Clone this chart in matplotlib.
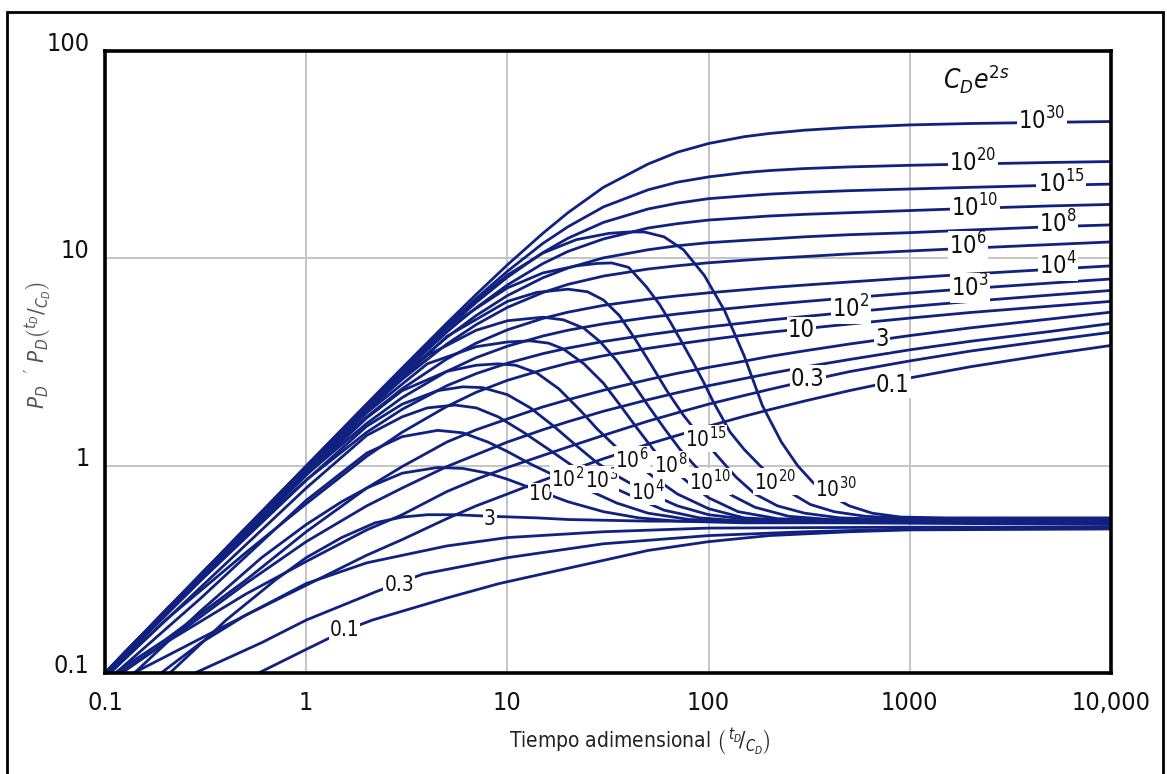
import matplotlib
matplotlib.use('Agg')
import matplotlib.pyplot as plt
from matplotlib.patches import Rectangle
from matplotlib.ticker import FixedLocator, FixedFormatter, NullLocator

plt.rcParams['font.family'] = ['DejaVu Sans']
plt.rcParams['font.stretch'] = 'condensed'
plt.rcParams['mathtext.fontset'] = 'custom'
plt.rcParams['mathtext.rm'] = 'DejaVu Sans'
plt.rcParams['mathtext.it'] = 'DejaVu Sans:italic'
plt.rcParams['mathtext.bf'] = 'DejaVu Sans:bold'

# ---------------- data ----------------
x_ticks = [0.1, 1, 10, 100, 1000, 10000]
x_tick_labels = ['0.1', '1', '10', '100', '1000', '10,000']
y_ticks = [0.1, 1, 10, 100]
y_tick_labels = ['0.1', '1', '10', '100']

# pressure curves p_D vs t_D/C_D (common time grid)
t_p = [0.1, 0.2, 0.5, 1, 2, 3, 5, 7, 10, 15, 20, 30, 50, 70, 100, 150, 200, 300, 500, 1000, 2000, 5000, 10000]
p_01 = [0.085, 0.12, 0.19, 0.265, 0.37, 0.44, 0.555, 0.64, 0.73, 0.85, 0.94, 1.08, 1.27, 1.4, 1.55, 1.73, 1.86, 2.05, 2.3, 2.65, 3.0, 3.45, 3.8]
p_03 = [0.088, 0.14, 0.24, 0.345, 0.49, 0.58, 0.75, 0.86, 0.98, 1.12, 1.23, 1.4, 1.64, 1.8, 1.98, 2.18, 2.33, 2.55, 2.84, 3.2, 3.57, 4.03, 4.4]
p_1 = [0.09, 0.14, 0.27, 0.43, 0.64, 0.78, 0.99, 1.13, 1.3, 1.49, 1.63, 1.83, 2.08, 2.25, 2.43, 2.63, 2.78, 2.99, 3.25, 3.62, 3.98, 4.44, 4.85]
p_3 = [0.093, 0.145, 0.28, 0.48, 0.78, 0.99, 1.3, 1.49, 1.68, 1.92, 2.08, 2.31, 2.6, 2.79, 2.98, 3.19, 3.36, 3.58, 3.86, 4.24, 4.62, 5.1, 5.5]
p_10 = [0.095, 0.18, 0.38, 0.655, 1.11, 1.45, 1.93, 2.26, 2.58, 2.9, 3.12, 3.39, 3.68, 3.86, 4.05, 4.26, 4.4, 4.58, 4.82, 5.15, 5.48, 5.88, 6.2]
p_1e2 = [0.098, 0.193, 0.46, 0.853, 1.45, 1.87, 2.43, 2.78, 3.12, 3.47, 3.69, 3.97, 4.28, 4.47, 4.67, 4.88, 5.04, 5.24, 5.5, 5.85, 6.2, 6.65, 7.0]
p_1e3 = [0.099, 0.197, 0.478, 0.904, 1.6, 2.13, 2.85, 3.32, 3.77, 4.22, 4.5, 4.83, 5.18, 5.39, 5.6, 5.82, 5.98, 6.19, 6.45, 6.8, 7.15, 7.6, 7.95]
p_1e4 = [0.1, 0.198, 0.487, 0.938, 1.72, 2.35, 3.27, 3.9, 4.52, 5.13, 5.5, 5.93, 6.35, 6.59, 6.82, 7.05, 7.22, 7.43, 7.69, 8.05, 8.4, 8.85, 9.2]
p_1e6 = [0.1, 0.2, 0.49, 0.968, 1.84, 2.61, 3.86, 4.79, 5.8, 6.84, 7.49, 8.21, 8.88, 9.21, 9.52, 9.79, 9.98, 10.2, 10.5, 10.85, 11.2, 11.65, 12.0]
p_1e8 = [0.1, 0.2, 0.495, 0.979, 1.89, 2.73, 4.16, 5.3, 6.61, 8.06, 8.98, 10.05, 11.0, 11.5, 11.9, 12.2, 12.4, 12.7, 13.0, 13.3, 13.7, 14.2, 14.5]
p_1e10 = [0.1, 0.2, 0.497, 0.987, 1.93, 2.82, 4.42, 5.78, 7.44, 9.43, 10.8, 12.4, 14.0, 14.7, 15.3, 15.7, 16.0, 16.3, 16.6, 17.0, 17.4, 17.9, 18.2]
p_1e15 = [0.1, 0.2, 0.498, 0.991, 1.95, 2.88, 4.6, 6.13, 8.11, 10.65, 12.5, 14.9, 17.3, 18.45, 19.4, 20.0, 20.4, 20.8, 21.2, 21.6, 22.0, 22.5, 22.8]
p_1e20 = [0.1, 0.2, 0.499, 0.994, 1.97, 2.92, 4.73, 6.41, 8.66, 11.8, 14.2, 17.7, 21.4, 23.3, 24.7, 25.9, 26.5, 27.1, 27.6, 28.1, 28.5, 29.0, 29.3]
p_1e30 = [0.1, 0.2, 0.5, 0.997, 1.986, 2.96, 4.87, 6.7, 9.3, 13.2, 16.6, 22.0, 28.5, 32.5, 35.8, 38.6, 40.0, 41.5, 42.8, 44.0, 44.7, 45.3, 45.7]

# derivative curves p_D'(t_D/C_D)
dx_01 = [0.45, 0.58, 1.0, 1.55, 2.13, 5, 9.1, 20, 50, 100, 200, 500, 1000, 10000]
dy_01 = [0.085, 0.1, 0.13, 0.16, 0.18, 0.23, 0.27, 0.32, 0.39, 0.43, 0.46, 0.48, 0.49, 0.495]
dx_03 = [0.22, 0.28, 0.6, 1, 2.23, 3.8, 10, 30, 100, 300, 1000, 10000]
dy_03 = [0.085, 0.1, 0.14, 0.18, 0.247, 0.3, 0.36, 0.42, 0.46, 0.48, 0.495, 0.5]
dx_1 = [0.16, 0.19, 0.3, 0.5, 1, 2, 5, 10, 30, 100, 1000, 10000]
dy_1 = [0.085, 0.1, 0.14, 0.19, 0.27, 0.34, 0.41, 0.45, 0.48, 0.5, 0.505, 0.505]
dx_3 = [0.18, 0.21, 0.4, 0.7, 1, 1.5, 2.2, 3, 4, 5.5, 8.2, 14, 20, 50, 200, 10000]
dy_3 = [0.085, 0.1, 0.18, 0.28, 0.36, 0.45, 0.53, 0.565, 0.58, 0.58, 0.57, 0.56, 0.55, 0.54, 0.54, 0.545]
dx_10 = [0.12, 0.14, 0.3, 0.6, 1, 1.5, 2, 3, 4.5, 6, 8, 10, 14.6, 20, 30, 45, 70, 150, 10000]
dy_10 = [0.085, 0.1, 0.2, 0.36, 0.52, 0.67, 0.78, 0.92, 0.98, 0.97, 0.92, 0.86, 0.75, 0.67, 0.6, 0.56, 0.54, 0.53, 0.53]
dx_1e2 = [0.1, 0.3, 1, 2, 3, 4.5, 6, 8, 10, 13, 17, 21, 27, 35, 50, 80, 150, 10000]
dy_1e2 = [0.09, 0.23, 0.68, 1.15, 1.38, 1.48, 1.44, 1.3, 1.17, 1.02, 0.9, 0.82, 0.74, 0.66, 0.59, 0.55, 0.535, 0.52]
dx_1e3 = [0.1, 0.3, 1, 2, 3, 4, 5.5, 7, 9, 12, 16, 21, 27, 35, 45, 60, 90, 150, 10000]
dy_1e3 = [0.095, 0.26, 0.78, 1.4, 1.72, 1.9, 1.96, 1.9, 1.72, 1.45, 1.2, 1.0, 0.88, 0.77, 0.69, 0.61, 0.56, 0.54, 0.525]
dx_1e4 = [0.1, 0.3, 1, 2, 3, 4.5, 6, 7.5, 10, 13, 17, 22, 28, 36, 45, 55, 70, 100, 170, 400, 10000]
dy_1e4 = [0.097, 0.28, 0.85, 1.55, 1.98, 2.3, 2.4, 2.38, 2.2, 1.9, 1.55, 1.25, 1.03, 0.88, 0.78, 0.71, 0.64, 0.58, 0.545, 0.535, 0.53]
dx_1e6 = [0.1, 1, 2, 3, 5, 7, 9, 11, 14, 18, 23, 28, 35, 45, 55, 70, 100, 150, 300, 10000]
dy_1e6 = [0.098, 0.9, 1.7, 2.3, 2.85, 3.05, 3.1, 3.05, 2.8, 2.35, 1.85, 1.5, 1.22, 1.0, 0.86, 0.73, 0.62, 0.56, 0.54, 0.535]
dx_1e8 = [0.1, 1, 2, 4, 7, 10, 13, 16, 19, 24, 30, 36, 44, 53, 63, 78, 100, 140, 220, 400, 10000]
dy_1e8 = [0.099, 0.92, 1.8, 3.1, 3.75, 3.95, 4.0, 3.9, 3.65, 3.1, 2.5, 1.98, 1.52, 1.2, 1.0, 0.84, 0.7, 0.6, 0.555, 0.545, 0.54]
dx_1e10 = [0.1, 1, 2, 4, 7, 10, 15, 19, 24, 29, 35, 42, 50, 60, 72, 87, 105, 130, 170, 250, 400, 10000]
dy_1e10 = [0.099, 0.93, 1.85, 3.4, 4.5, 5.0, 5.2, 5.05, 4.6, 3.95, 3.2, 2.5, 1.95, 1.52, 1.2, 0.98, 0.83, 0.72, 0.63, 0.57, 0.55, 0.545]
dx_1e15 = [0.1, 1, 2, 5, 10, 14, 20, 25, 30, 36, 43, 52, 62, 75, 90, 110, 137, 170, 220, 300, 450, 800, 10000]
dy_1e15 = [0.1, 0.94, 1.85, 4.2, 6.2, 6.85, 7.1, 6.9, 6.3, 5.3, 4.1, 3.05, 2.3, 1.75, 1.4, 1.12, 0.88, 0.73, 0.64, 0.59, 0.56, 0.55, 0.55]
dx_1e20 = [0.1, 1, 3, 6, 10, 15, 22, 28, 33, 40, 49, 57, 64, 73, 83, 95, 105, 128, 150, 180, 213, 250, 320, 420, 600, 1000, 10000]
dy_1e20 = [0.1, 0.95, 2.8, 5.2, 7.2, 8.5, 9.2, 9.45, 9.5, 9.05, 7.3, 6.0, 5.0, 4.0, 3.2, 2.5, 2.05, 1.45, 1.2, 1.0, 0.86, 0.75, 0.65, 0.6, 0.57, 0.555, 0.555]
dx_1e30 = [0.1, 1, 3, 6, 10, 15, 22, 32, 40, 48, 60, 75, 95, 120, 150, 185, 230, 277, 330, 400, 500, 650, 900, 1500, 10000]
dy_1e30 = [0.1, 0.95, 2.85, 5.5, 8.3, 10.6, 12.3, 13.2, 13.4, 13.4, 12.7, 11.0, 8.3, 5.6, 3.4, 1.95, 1.3, 1.0, 0.83, 0.72, 0.64, 0.59, 0.565, 0.56, 0.56]

# curve labels (C_D e^{2s})
p_lab_text = ['10$^{30}$', '10$^{20}$', '10$^{15}$', '10$^{10}$', '10$^{8}$', '10$^{6}$', '10$^{4}$',
              '10$^{3}$', '10$^{2}$', '10', '3', '0.3', '0.1']
p_lab_x = [4540, 2057, 5640, 2105, 5450, 1944, 5450, 1990, 509, 290, 726, 311, 823]
p_lab_y = [46.0, 28.9, 22.9, 17.5, 14.7, 11.5, 9.2, 7.2, 5.7, 4.5, 4.1, 2.63, 2.46]

d_lab_text = ['3', '10', '10$^{2}$', '10$^{3}$', '10$^{4}$', '10$^{6}$', '10$^{8}$', '10$^{10}$',
              '10$^{15}$', '10$^{20}$', '10$^{30}$', '0.3', '0.1']
d_lab_x = [8.2, 14.6, 19.9, 29.4, 49.7, 41.5, 65, 102, 96.6, 213, 428, 2.9, 1.55]
d_lab_y = [0.556, 0.733, 0.866, 0.856, 0.75, 1.07, 1.01, 0.837, 1.35, 0.837, 0.775, 0.267, 0.162]

# ---------------- figure ----------------
W, H = 1167, 774
fig = plt.figure(figsize=(W / 100, H / 100), dpi=100)
ax = fig.add_axes([105 / W, 1 - 673 / H, (1111 - 105) / W, (673 - 51) / H])

line_col = '#11217f'
lw = 2.0

pressure_curves = [p_01, p_03, p_1, p_3, p_10, p_1e2, p_1e3, p_1e4, p_1e6, p_1e8,
                   p_1e10, p_1e15, p_1e20, p_1e30]
for p in pressure_curves:
    ax.plot(t_p, p, color=line_col, lw=lw, solid_joinstyle='round', zorder=3)

deriv_curves = [(dx_01, dy_01), (dx_03, dy_03), (dx_1, dy_1), (dx_3, dy_3), (dx_10, dy_10),
                (dx_1e2, dy_1e2), (dx_1e3, dy_1e3), (dx_1e4, dy_1e4), (dx_1e6, dy_1e6),
                (dx_1e8, dy_1e8), (dx_1e10, dy_1e10), (dx_1e15, dy_1e15), (dx_1e20, dy_1e20),
                (dx_1e30, dy_1e30)]
for dx, dy in deriv_curves:
    ax.plot(dx, dy, color=line_col, lw=lw, solid_joinstyle='round', zorder=3)

ax.set_xscale('log')
ax.set_yscale('log')
ax.set_xlim(0.1, 10000)
ax.set_ylim(0.1, 100)

ax.xaxis.set_major_locator(FixedLocator(x_ticks))
ax.xaxis.set_major_formatter(FixedFormatter(x_tick_labels))
ax.xaxis.set_minor_locator(NullLocator())
ax.yaxis.set_major_locator(FixedLocator(y_ticks))
ax.yaxis.set_major_formatter(FixedFormatter(y_tick_labels))
ax.yaxis.set_minor_locator(NullLocator())
ax.tick_params(axis='both', length=0, labelsize=18, colors='#111111')
ax.tick_params(axis='x', pad=13)
ax.tick_params(axis='y', pad=11)
for lab in ax.get_yticklabels():
    lab.set_va('baseline')

ax.grid(True, which='major', color='#c4c4c4', lw=1.4, zorder=0)
for s in ax.spines.values():
    s.set_linewidth(2.6)
    s.set_color('black')
    s.set_zorder(5)

bbox = dict(boxstyle='square,pad=0.05', fc='white', ec='none')
for t, x, y in zip(p_lab_text, p_lab_x, p_lab_y):
    ax.text(x, y, t, fontsize=17, ha='center', va='center', bbox=bbox, zorder=4, color='#111111')
for t, x, y in zip(d_lab_text, d_lab_x, d_lab_y):
    ax.text(x, y, t, fontsize=15, ha='center', va='center', bbox=bbox, zorder=4, color='#111111')

ax.text(0.866, 0.955, r'$C_De^{2s}$', transform=ax.transAxes, fontsize=19,
        ha='center', va='center', color='#111111')

fig.text(640 / W, 1 - 742 / H, r'Tiempo adimensional $\left(\,^{t_D}\!/_{C_D}\right)$',
         fontsize=15, ha='center', va='center', color='#222222')
fig.text(38 / W, 1 - 345 / H, r"$P_D\ \ '\ P_D\left(^{t_D}/_{C_D}\right)$",
         fontsize=16, rotation=90, ha='center', va='center', color='#555555')

fig.patches.append(Rectangle((7 / W, -0.05), (1163 - 7) / W, 1.05 - 12 / H,
                             transform=fig.transFigure, fill=False, ec='black', lw=2.0))

fig.savefig('out.png', dpi=100)
